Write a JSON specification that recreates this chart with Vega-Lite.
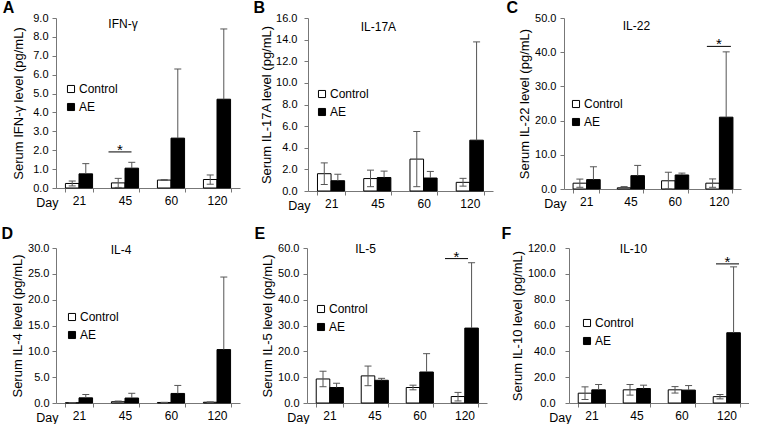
{
  "$schema": "https://vega.github.io/schema/vega-lite/v6.json",
  "padding": {"left": 1, "top": 0, "right": 0, "bottom": 0},
  "config": {
    "font": "Liberation Sans",
    "view": {"stroke": null},
    "axis": {"grid": false, "domainColor": "#777777", "tickColor": "#777777", "labelColor": "black", "titleColor": "black", "titleFontWeight": "normal", "labelFont": "Liberation Sans", "titleFont": "Liberation Sans", "labelOverlap": false},
    "axisY": {"labelFontSize": 11, "titleFontSize": 13, "tickSize": 4, "labelPadding": 6, "titlePadding": 3},
    "axisX": {"labelFontSize": 12, "tickSize": 4, "labelPadding": 3, "tickBand": "extent", "labelAngle": 0, "titleFontSize": 12.5, "titleAlign": "right", "titleBaseline": "top", "titleX": 2, "titleY": 8, "titleAnchor": "start"},
    "legend": {"symbolType": "square", "symbolSize": 50, "symbolStrokeColor": "black", "symbolStrokeWidth": 1, "labelFontSize": 12, "labelColor": "black", "rowPadding": 6, "padding": 0, "labelOffset": 2, "labelFont": "Liberation Sans"},
    "title": {"fontSize": 16, "fontWeight": "bold", "anchor": "start", "frame": "bounds", "color": "black", "font": "Liberation Sans"},
    "text": {"font": "Liberation Sans", "color": "black"}
  },
  "spacing": 14,
  "resolve": {"scale": {"fill": "independent"}, "legend": {"fill": "independent"}},
  "vconcat": [
    {
      "spacing": 13,
      "resolve": {"scale": {"fill": "independent"}, "legend": {"fill": "independent"}},
      "hconcat": [
        {
          "width": 184, "height": 170,
          "title": {"text": "A", "dx": -10, "offset": -4},
          "data": {"values": [
            {"day": "21", "group": "Control", "mean": 0.24, "lo": 0.11, "hi": 0.37},
            {"day": "21", "group": "AE", "mean": 0.75, "lo": 0.75, "hi": 1.29},
            {"day": "45", "group": "Control", "mean": 0.27, "lo": 0.03, "hi": 0.51},
            {"day": "45", "group": "AE", "mean": 1.05, "lo": 1.05, "hi": 1.36},
            {"day": "60", "group": "Control", "mean": 0.42, "lo": 0.40, "hi": 0.44},
            {"day": "60", "group": "AE", "mean": 2.64, "lo": 2.64, "hi": 6.3},
            {"day": "120", "group": "Control", "mean": 0.45, "lo": 0.20, "hi": 0.69},
            {"day": "120", "group": "AE", "mean": 4.7, "lo": 4.7, "hi": 8.42}
          ]},
          "layer": [
            {
              "mark": {"type": "bar", "stroke": "black", "strokeWidth": 1},
              "encoding": {
                "x": {"field": "day", "type": "nominal", "scale": {"domain": ["21", "45", "60", "120"], "paddingInner": 0.41, "paddingOuter": 0.205}, "axis": {"title": "Day"}},
                "xOffset": {"field": "group", "type": "nominal", "scale": {"domain": ["Control", "AE"], "paddingInner": 0, "paddingOuter": 0}},
                "y": {"field": "mean", "type": "quantitative", "scale": {"domain": [0, 9], "nice": false}, "axis": {"values": [0, 1, 2, 3, 4, 5, 6, 7, 8, 9], "format": ".1f", "title": "Serum IFN-γ level (pg/mL)", "titlePadding": 7, "labelPadding": 4, "labelOverlap": false}},
                "fill": {"field": "group", "type": "nominal", "scale": {"domain": ["Control", "AE"], "range": ["white", "black"]}, "legend": {"orient": "none", "legendX": 9, "legendY": 65, "title": null}}
              }
            },
            {
              "mark": {"type": "rule", "color": "#555555", "strokeWidth": 1},
              "encoding": {"x": {"field": "day", "type": "nominal"}, "xOffset": {"field": "group", "type": "nominal"}, "y": {"field": "lo", "type": "quantitative", "axis": {"values": [0, 1, 2, 3, 4, 5, 6, 7, 8, 9], "format": ".1f", "title": "Serum IFN-γ level (pg/mL)", "titlePadding": 7, "labelPadding": 4, "labelOverlap": false}}, "y2": {"field": "hi"}}
            },
            {
              "mark": {"type": "tick", "color": "#555555", "size": 7, "thickness": 1, "opacity": 1},
              "encoding": {"x": {"field": "day", "type": "nominal"}, "xOffset": {"field": "group", "type": "nominal"}, "y": {"field": "hi", "type": "quantitative", "axis": {"values": [0, 1, 2, 3, 4, 5, 6, 7, 8, 9], "format": ".1f", "title": "Serum IFN-γ level (pg/mL)", "titlePadding": 7, "labelPadding": 4, "labelOverlap": false}}}
            },
            {
              "transform": [{"filter": "datum.group === 'Control'"}],
              "mark": {"type": "tick", "color": "#555555", "size": 7, "thickness": 1, "opacity": 1},
              "encoding": {"x": {"field": "day", "type": "nominal"}, "xOffset": {"field": "group", "type": "nominal"}, "y": {"field": "lo", "type": "quantitative", "axis": {"values": [0, 1, 2, 3, 4, 5, 6, 7, 8, 9], "format": ".1f", "title": "Serum IFN-γ level (pg/mL)", "titlePadding": 7, "labelPadding": 4, "labelOverlap": false}}}
            },
            {
              "data": {"values": [{"day": "45", "mark": "*"}]},
              "layer": [
                {
                  "mark": {"type": "tick", "color": "black", "size": 23, "thickness": 1, "opacity": 1, "xOffset": -5},
                  "encoding": {"x": {"field": "day", "type": "nominal"}, "y": {"datum": 1.91, "axis": {"values": [0, 1, 2, 3, 4, 5, 6, 7, 8, 9], "format": ".1f", "title": "Serum IFN-γ level (pg/mL)", "titlePadding": 7, "labelPadding": 4, "labelOverlap": false}}}
                },
                {
                  "mark": {"type": "text", "fontSize": 15, "baseline": "alphabetic", "dx": -5, "dy": 3},
                  "encoding": {"x": {"field": "day", "type": "nominal"}, "y": {"datum": 1.91, "axis": {"values": [0, 1, 2, 3, 4, 5, 6, 7, 8, 9], "format": ".1f", "title": "Serum IFN-γ level (pg/mL)", "titlePadding": 7, "labelPadding": 4, "labelOverlap": false}}, "text": {"field": "mark"}}
                }
              ]
            },
            {
              "data": {"values": [{"day": "45", "name": "IFN-γ"}]},
              "mark": {"type": "text", "fontSize": 12, "baseline": "middle", "dx": -2},
              "encoding": {"x": {"field": "day", "type": "nominal"}, "y": {"datum": 8.7, "axis": {"values": [0, 1, 2, 3, 4, 5, 6, 7, 8, 9], "format": ".1f", "title": "Serum IFN-γ level (pg/mL)", "titlePadding": 7, "labelPadding": 4, "labelOverlap": false}}, "text": {"field": "name"}}
            }
          ]
        },
        {
          "width": 185, "height": 173,
          "title": {"text": "B", "dx": -7, "offset": -4},
          "data": {"values": [
            {"day": "21", "group": "Control", "mean": 1.6, "lo": 0.6, "hi": 2.6},
            {"day": "21", "group": "AE", "mean": 0.95, "lo": 0.95, "hi": 1.55},
            {"day": "45", "group": "Control", "mean": 1.15, "lo": 0.4, "hi": 1.93},
            {"day": "45", "group": "AE", "mean": 1.25, "lo": 1.25, "hi": 1.84},
            {"day": "60", "group": "Control", "mean": 2.95, "lo": 0.4, "hi": 5.5},
            {"day": "60", "group": "AE", "mean": 1.2, "lo": 1.2, "hi": 1.81},
            {"day": "120", "group": "Control", "mean": 0.8, "lo": 0.45, "hi": 1.17},
            {"day": "120", "group": "AE", "mean": 4.7, "lo": 4.7, "hi": 13.79}
          ]},
          "layer": [
            {
              "mark": {"type": "bar", "stroke": "black", "strokeWidth": 1},
              "encoding": {
                "x": {"field": "day", "type": "nominal", "scale": {"domain": ["21", "45", "60", "120"], "paddingInner": 0.41, "paddingOuter": 0.205}, "axis": {"title": "Day"}},
                "xOffset": {"field": "group", "type": "nominal", "scale": {"domain": ["Control", "AE"], "paddingInner": 0, "paddingOuter": 0}},
                "y": {"field": "mean", "type": "quantitative", "scale": {"domain": [0, 16], "nice": false}, "axis": {"values": [0, 2, 4, 6, 8, 10, 12, 14, 16], "format": ".1f", "title": "Serum IL-17A level (pg/mL)", "titlePadding": 2, "labelPadding": 7, "labelOverlap": false}},
                "fill": {"field": "group", "type": "nominal", "scale": {"domain": ["Control", "AE"], "range": ["white", "black"]}, "legend": {"orient": "none", "legendX": 8, "legendY": 70, "title": null}}
              }
            },
            {
              "mark": {"type": "rule", "color": "#555555", "strokeWidth": 1},
              "encoding": {"x": {"field": "day", "type": "nominal"}, "xOffset": {"field": "group", "type": "nominal"}, "y": {"field": "lo", "type": "quantitative", "axis": {"values": [0, 2, 4, 6, 8, 10, 12, 14, 16], "format": ".1f", "title": "Serum IL-17A level (pg/mL)", "titlePadding": 2, "labelPadding": 7, "labelOverlap": false}}, "y2": {"field": "hi"}}
            },
            {
              "mark": {"type": "tick", "color": "#555555", "size": 7, "thickness": 1, "opacity": 1},
              "encoding": {"x": {"field": "day", "type": "nominal"}, "xOffset": {"field": "group", "type": "nominal"}, "y": {"field": "hi", "type": "quantitative", "axis": {"values": [0, 2, 4, 6, 8, 10, 12, 14, 16], "format": ".1f", "title": "Serum IL-17A level (pg/mL)", "titlePadding": 2, "labelPadding": 7, "labelOverlap": false}}}
            },
            {
              "transform": [{"filter": "datum.group === 'Control'"}],
              "mark": {"type": "tick", "color": "#555555", "size": 7, "thickness": 1, "opacity": 1},
              "encoding": {"x": {"field": "day", "type": "nominal"}, "xOffset": {"field": "group", "type": "nominal"}, "y": {"field": "lo", "type": "quantitative", "axis": {"values": [0, 2, 4, 6, 8, 10, 12, 14, 16], "format": ".1f", "title": "Serum IL-17A level (pg/mL)", "titlePadding": 2, "labelPadding": 7, "labelOverlap": false}}}
            },
            {
              "data": {"values": [{"day": "45", "name": "IL-17A"}]},
              "mark": {"type": "text", "fontSize": 12, "baseline": "middle", "dx": 1},
              "encoding": {"x": {"field": "day", "type": "nominal"}, "y": {"datum": 15.2, "axis": {"values": [0, 2, 4, 6, 8, 10, 12, 14, 16], "format": ".1f", "title": "Serum IL-17A level (pg/mL)", "titlePadding": 2, "labelPadding": 7, "labelOverlap": false}}, "text": {"field": "name"}}
            }
          ]
        },
        {
          "width": 177, "height": 171,
          "title": {"text": "C", "dx": -12, "offset": -4},
          "data": {"values": [
            {"day": "21", "group": "Control", "mean": 1.7, "lo": 0.5, "hi": 2.9},
            {"day": "21", "group": "AE", "mean": 2.75, "lo": 2.75, "hi": 6.5},
            {"day": "45", "group": "Control", "mean": 0.35, "lo": 0.05, "hi": 0.7},
            {"day": "45", "group": "AE", "mean": 3.9, "lo": 3.9, "hi": 6.9},
            {"day": "60", "group": "Control", "mean": 2.4, "lo": 0.0, "hi": 4.9},
            {"day": "60", "group": "AE", "mean": 4.1, "lo": 4.1, "hi": 4.65},
            {"day": "120", "group": "Control", "mean": 1.7, "lo": 0.5, "hi": 2.95},
            {"day": "120", "group": "AE", "mean": 21.0, "lo": 21.0, "hi": 40.1}
          ]},
          "layer": [
            {
              "mark": {"type": "bar", "stroke": "black", "strokeWidth": 1},
              "encoding": {
                "x": {"field": "day", "type": "nominal", "scale": {"domain": ["21", "45", "60", "120"], "paddingInner": 0.41, "paddingOuter": 0.205}, "axis": {"title": "Day"}},
                "xOffset": {"field": "group", "type": "nominal", "scale": {"domain": ["Control", "AE"], "paddingInner": 0, "paddingOuter": 0}},
                "y": {"field": "mean", "type": "quantitative", "scale": {"domain": [0, 50], "nice": false}, "axis": {"values": [0, 10, 20, 30, 40, 50], "format": ".1f", "title": "Serum IL-22 level (pg/mL)", "titlePadding": 3, "labelPadding": 4, "labelOverlap": false}},
                "fill": {"field": "group", "type": "nominal", "scale": {"domain": ["Control", "AE"], "range": ["white", "black"]}, "legend": {"orient": "none", "legendX": 6, "legendY": 80, "title": null}}
              }
            },
            {
              "mark": {"type": "rule", "color": "#555555", "strokeWidth": 1},
              "encoding": {"x": {"field": "day", "type": "nominal"}, "xOffset": {"field": "group", "type": "nominal"}, "y": {"field": "lo", "type": "quantitative", "axis": {"values": [0, 10, 20, 30, 40, 50], "format": ".1f", "title": "Serum IL-22 level (pg/mL)", "titlePadding": 3, "labelPadding": 4, "labelOverlap": false}}, "y2": {"field": "hi"}}
            },
            {
              "mark": {"type": "tick", "color": "#555555", "size": 7, "thickness": 1, "opacity": 1},
              "encoding": {"x": {"field": "day", "type": "nominal"}, "xOffset": {"field": "group", "type": "nominal"}, "y": {"field": "hi", "type": "quantitative", "axis": {"values": [0, 10, 20, 30, 40, 50], "format": ".1f", "title": "Serum IL-22 level (pg/mL)", "titlePadding": 3, "labelPadding": 4, "labelOverlap": false}}}
            },
            {
              "transform": [{"filter": "datum.group === 'Control'"}],
              "mark": {"type": "tick", "color": "#555555", "size": 7, "thickness": 1, "opacity": 1},
              "encoding": {"x": {"field": "day", "type": "nominal"}, "xOffset": {"field": "group", "type": "nominal"}, "y": {"field": "lo", "type": "quantitative", "axis": {"values": [0, 10, 20, 30, 40, 50], "format": ".1f", "title": "Serum IL-22 level (pg/mL)", "titlePadding": 3, "labelPadding": 4, "labelOverlap": false}}}
            },
            {
              "data": {"values": [{"day": "120", "mark": "*"}]},
              "layer": [
                {
                  "mark": {"type": "tick", "color": "black", "size": 24, "thickness": 1, "opacity": 1, "xOffset": 0},
                  "encoding": {"x": {"field": "day", "type": "nominal"}, "y": {"datum": 41.7, "axis": {"values": [0, 10, 20, 30, 40, 50], "format": ".1f", "title": "Serum IL-22 level (pg/mL)", "titlePadding": 3, "labelPadding": 4, "labelOverlap": false}}}
                },
                {
                  "mark": {"type": "text", "fontSize": 15, "baseline": "alphabetic", "dx": 0, "dy": 3},
                  "encoding": {"x": {"field": "day", "type": "nominal"}, "y": {"datum": 41.7, "axis": {"values": [0, 10, 20, 30, 40, 50], "format": ".1f", "title": "Serum IL-22 level (pg/mL)", "titlePadding": 3, "labelPadding": 4, "labelOverlap": false}}, "text": {"field": "mark"}}
                }
              ]
            },
            {
              "data": {"values": [{"day": "45", "name": "IL-22"}]},
              "mark": {"type": "text", "fontSize": 12, "baseline": "middle", "dx": 6},
              "encoding": {"x": {"field": "day", "type": "nominal"}, "y": {"datum": 47.8, "axis": {"values": [0, 10, 20, 30, 40, 50], "format": ".1f", "title": "Serum IL-22 level (pg/mL)", "titlePadding": 3, "labelPadding": 4, "labelOverlap": false}}, "text": {"field": "name"}}
            }
          ]
        }
      ]
    },
    {
      "spacing": 14,
      "resolve": {"scale": {"fill": "independent"}, "legend": {"fill": "independent"}},
      "hconcat": [
        {
          "width": 184, "height": 155,
          "title": {"text": "D", "dx": -10, "offset": 0},
          "data": {"values": [
            {"day": "21", "group": "Control", "mean": 0.05, "lo": 0.03, "hi": 0.07},
            {"day": "21", "group": "AE", "mean": 1.0, "lo": 1.0, "hi": 1.65},
            {"day": "45", "group": "Control", "mean": 0.25, "lo": 0.12, "hi": 0.38},
            {"day": "45", "group": "AE", "mean": 0.96, "lo": 0.96, "hi": 1.88},
            {"day": "60", "group": "Control", "mean": 0.1, "lo": 0.07, "hi": 0.13},
            {"day": "60", "group": "AE", "mean": 1.85, "lo": 1.85, "hi": 3.4},
            {"day": "120", "group": "Control", "mean": 0.15, "lo": 0.08, "hi": 0.22},
            {"day": "120", "group": "AE", "mean": 10.34, "lo": 10.34, "hi": 24.38}
          ]},
          "layer": [
            {
              "mark": {"type": "bar", "stroke": "black", "strokeWidth": 1},
              "encoding": {
                "x": {"field": "day", "type": "nominal", "scale": {"domain": ["21", "45", "60", "120"], "paddingInner": 0.41, "paddingOuter": 0.205}, "axis": {"title": "Day"}},
                "xOffset": {"field": "group", "type": "nominal", "scale": {"domain": ["Control", "AE"], "paddingInner": 0, "paddingOuter": 0}},
                "y": {"field": "mean", "type": "quantitative", "scale": {"domain": [0, 30], "nice": false}, "axis": {"values": [0, 5, 10, 15, 20, 25, 30], "format": ".1f", "title": "Serum IL-4 level (pg/mL)", "titlePadding": 3, "labelPadding": 3, "labelOverlap": false}},
                "fill": {"field": "group", "type": "nominal", "scale": {"domain": ["Control", "AE"], "range": ["white", "black"]}, "legend": {"orient": "none", "legendX": 10, "legendY": 63, "title": null}}
              }
            },
            {
              "mark": {"type": "rule", "color": "#555555", "strokeWidth": 1},
              "encoding": {"x": {"field": "day", "type": "nominal"}, "xOffset": {"field": "group", "type": "nominal"}, "y": {"field": "lo", "type": "quantitative", "axis": {"values": [0, 5, 10, 15, 20, 25, 30], "format": ".1f", "title": "Serum IL-4 level (pg/mL)", "titlePadding": 3, "labelPadding": 3, "labelOverlap": false}}, "y2": {"field": "hi"}}
            },
            {
              "mark": {"type": "tick", "color": "#555555", "size": 7, "thickness": 1, "opacity": 1},
              "encoding": {"x": {"field": "day", "type": "nominal"}, "xOffset": {"field": "group", "type": "nominal"}, "y": {"field": "hi", "type": "quantitative", "axis": {"values": [0, 5, 10, 15, 20, 25, 30], "format": ".1f", "title": "Serum IL-4 level (pg/mL)", "titlePadding": 3, "labelPadding": 3, "labelOverlap": false}}}
            },
            {
              "transform": [{"filter": "datum.group === 'Control'"}],
              "mark": {"type": "tick", "color": "#555555", "size": 7, "thickness": 1, "opacity": 1},
              "encoding": {"x": {"field": "day", "type": "nominal"}, "xOffset": {"field": "group", "type": "nominal"}, "y": {"field": "lo", "type": "quantitative", "axis": {"values": [0, 5, 10, 15, 20, 25, 30], "format": ".1f", "title": "Serum IL-4 level (pg/mL)", "titlePadding": 3, "labelPadding": 3, "labelOverlap": false}}}
            },
            {
              "data": {"values": [{"day": "45", "name": "IL-4"}]},
              "mark": {"type": "text", "fontSize": 12, "baseline": "middle", "dx": -4},
              "encoding": {"x": {"field": "day", "type": "nominal"}, "y": {"datum": 29.7, "axis": {"values": [0, 5, 10, 15, 20, 25, 30], "format": ".1f", "title": "Serum IL-4 level (pg/mL)", "titlePadding": 3, "labelPadding": 3, "labelOverlap": false}}, "text": {"field": "name"}}
            }
          ]
        },
        {
          "width": 180, "height": 155,
          "title": {"text": "E", "dx": -7, "offset": 0},
          "data": {"values": [
            {"day": "21", "group": "Control", "mean": 9.3, "lo": 6.3, "hi": 12.3},
            {"day": "21", "group": "AE", "mean": 6.0, "lo": 6.0, "hi": 7.65},
            {"day": "45", "group": "Control", "mean": 10.5, "lo": 6.7, "hi": 14.3},
            {"day": "45", "group": "AE", "mean": 8.8, "lo": 8.8, "hi": 9.55},
            {"day": "60", "group": "Control", "mean": 6.0, "lo": 5.1, "hi": 6.9},
            {"day": "60", "group": "AE", "mean": 12.0, "lo": 12.0, "hi": 19.1},
            {"day": "120", "group": "Control", "mean": 2.5, "lo": 0.8, "hi": 4.1},
            {"day": "120", "group": "AE", "mean": 29.0, "lo": 29.0, "hi": 54.3}
          ]},
          "layer": [
            {
              "mark": {"type": "bar", "stroke": "black", "strokeWidth": 1},
              "encoding": {
                "x": {"field": "day", "type": "nominal", "scale": {"domain": ["21", "45", "60", "120"], "paddingInner": 0.41, "paddingOuter": 0.205}, "axis": {"title": "Day"}},
                "xOffset": {"field": "group", "type": "nominal", "scale": {"domain": ["Control", "AE"], "paddingInner": 0, "paddingOuter": 0}},
                "y": {"field": "mean", "type": "quantitative", "scale": {"domain": [0, 60], "nice": false}, "axis": {"values": [0, 10, 20, 30, 40, 50, 60], "format": ".1f", "title": "Serum IL-5 level (pg/mL)", "titlePadding": 3, "labelPadding": 4, "labelOverlap": false}},
                "fill": {"field": "group", "type": "nominal", "scale": {"domain": ["Control", "AE"], "range": ["white", "black"]}, "legend": {"orient": "none", "legendX": 8, "legendY": 55, "title": null}}
              }
            },
            {
              "mark": {"type": "rule", "color": "#555555", "strokeWidth": 1},
              "encoding": {"x": {"field": "day", "type": "nominal"}, "xOffset": {"field": "group", "type": "nominal"}, "y": {"field": "lo", "type": "quantitative", "axis": {"values": [0, 10, 20, 30, 40, 50, 60], "format": ".1f", "title": "Serum IL-5 level (pg/mL)", "titlePadding": 3, "labelPadding": 4, "labelOverlap": false}}, "y2": {"field": "hi"}}
            },
            {
              "mark": {"type": "tick", "color": "#555555", "size": 7, "thickness": 1, "opacity": 1},
              "encoding": {"x": {"field": "day", "type": "nominal"}, "xOffset": {"field": "group", "type": "nominal"}, "y": {"field": "hi", "type": "quantitative", "axis": {"values": [0, 10, 20, 30, 40, 50, 60], "format": ".1f", "title": "Serum IL-5 level (pg/mL)", "titlePadding": 3, "labelPadding": 4, "labelOverlap": false}}}
            },
            {
              "transform": [{"filter": "datum.group === 'Control'"}],
              "mark": {"type": "tick", "color": "#555555", "size": 7, "thickness": 1, "opacity": 1},
              "encoding": {"x": {"field": "day", "type": "nominal"}, "xOffset": {"field": "group", "type": "nominal"}, "y": {"field": "lo", "type": "quantitative", "axis": {"values": [0, 10, 20, 30, 40, 50, 60], "format": ".1f", "title": "Serum IL-5 level (pg/mL)", "titlePadding": 3, "labelPadding": 4, "labelOverlap": false}}}
            },
            {
              "data": {"values": [{"day": "120", "mark": "*"}]},
              "layer": [
                {
                  "mark": {"type": "tick", "color": "black", "size": 23, "thickness": 1, "opacity": 1, "xOffset": -8},
                  "encoding": {"x": {"field": "day", "type": "nominal"}, "y": {"datum": 55.9, "axis": {"values": [0, 10, 20, 30, 40, 50, 60], "format": ".1f", "title": "Serum IL-5 level (pg/mL)", "titlePadding": 3, "labelPadding": 4, "labelOverlap": false}}}
                },
                {
                  "mark": {"type": "text", "fontSize": 15, "baseline": "alphabetic", "dx": -8, "dy": 3},
                  "encoding": {"x": {"field": "day", "type": "nominal"}, "y": {"datum": 55.9, "axis": {"values": [0, 10, 20, 30, 40, 50, 60], "format": ".1f", "title": "Serum IL-5 level (pg/mL)", "titlePadding": 3, "labelPadding": 4, "labelOverlap": false}}, "text": {"field": "mark"}}
                }
              ]
            },
            {
              "data": {"values": [{"day": "45", "name": "IL-5"}]},
              "mark": {"type": "text", "fontSize": 12, "baseline": "middle", "dx": -9},
              "encoding": {"x": {"field": "day", "type": "nominal"}, "y": {"datum": 59.5, "axis": {"values": [0, 10, 20, 30, 40, 50, 60], "format": ".1f", "title": "Serum IL-5 level (pg/mL)", "titlePadding": 3, "labelPadding": 4, "labelOverlap": false}}, "text": {"field": "name"}}
            }
          ]
        },
        {
          "width": 180, "height": 155,
          "title": {"text": "F", "dx": -10, "offset": 0},
          "data": {"values": [
            {"day": "21", "group": "Control", "mean": 7.6, "lo": 2.7, "hi": 12.5},
            {"day": "21", "group": "AE", "mean": 10.2, "lo": 10.2, "hi": 14.3},
            {"day": "45", "group": "Control", "mean": 10.2, "lo": 6.1, "hi": 14.3},
            {"day": "45", "group": "AE", "mean": 11.2, "lo": 11.2, "hi": 13.8},
            {"day": "60", "group": "Control", "mean": 10.2, "lo": 7.7, "hi": 12.7},
            {"day": "60", "group": "AE", "mean": 10.0, "lo": 10.0, "hi": 13.5},
            {"day": "120", "group": "Control", "mean": 4.9, "lo": 3.2, "hi": 6.6},
            {"day": "120", "group": "AE", "mean": 54.4, "lo": 54.4, "hi": 105.4}
          ]},
          "layer": [
            {
              "mark": {"type": "bar", "stroke": "black", "strokeWidth": 1},
              "encoding": {
                "x": {"field": "day", "type": "nominal", "scale": {"domain": ["21", "45", "60", "120"], "paddingInner": 0.41, "paddingOuter": 0.205}, "axis": {"title": "Day"}},
                "xOffset": {"field": "group", "type": "nominal", "scale": {"domain": ["Control", "AE"], "paddingInner": 0, "paddingOuter": 0}},
                "y": {"field": "mean", "type": "quantitative", "scale": {"domain": [0, 120], "nice": false}, "axis": {"values": [0, 20, 40, 60, 80, 100, 120], "format": ".1f", "title": "Serum IL-10 level (pg/mL)", "titlePadding": 3, "labelPadding": 10, "labelOverlap": false}},
                "fill": {"field": "group", "type": "nominal", "scale": {"domain": ["Control", "AE"], "range": ["white", "black"]}, "legend": {"orient": "none", "legendX": 12, "legendY": 69, "title": null}}
              }
            },
            {
              "mark": {"type": "rule", "color": "#555555", "strokeWidth": 1},
              "encoding": {"x": {"field": "day", "type": "nominal"}, "xOffset": {"field": "group", "type": "nominal"}, "y": {"field": "lo", "type": "quantitative", "axis": {"values": [0, 20, 40, 60, 80, 100, 120], "format": ".1f", "title": "Serum IL-10 level (pg/mL)", "titlePadding": 3, "labelPadding": 10, "labelOverlap": false}}, "y2": {"field": "hi"}}
            },
            {
              "mark": {"type": "tick", "color": "#555555", "size": 7, "thickness": 1, "opacity": 1},
              "encoding": {"x": {"field": "day", "type": "nominal"}, "xOffset": {"field": "group", "type": "nominal"}, "y": {"field": "hi", "type": "quantitative", "axis": {"values": [0, 20, 40, 60, 80, 100, 120], "format": ".1f", "title": "Serum IL-10 level (pg/mL)", "titlePadding": 3, "labelPadding": 10, "labelOverlap": false}}}
            },
            {
              "transform": [{"filter": "datum.group === 'Control'"}],
              "mark": {"type": "tick", "color": "#555555", "size": 7, "thickness": 1, "opacity": 1},
              "encoding": {"x": {"field": "day", "type": "nominal"}, "xOffset": {"field": "group", "type": "nominal"}, "y": {"field": "lo", "type": "quantitative", "axis": {"values": [0, 20, 40, 60, 80, 100, 120], "format": ".1f", "title": "Serum IL-10 level (pg/mL)", "titlePadding": 3, "labelPadding": 10, "labelOverlap": false}}}
            },
            {
              "data": {"values": [{"day": "120", "mark": "*"}]},
              "layer": [
                {
                  "mark": {"type": "tick", "color": "black", "size": 23, "thickness": 1, "opacity": 1, "xOffset": 1},
                  "encoding": {"x": {"field": "day", "type": "nominal"}, "y": {"datum": 107.7, "axis": {"values": [0, 20, 40, 60, 80, 100, 120], "format": ".1f", "title": "Serum IL-10 level (pg/mL)", "titlePadding": 3, "labelPadding": 10, "labelOverlap": false}}}
                },
                {
                  "mark": {"type": "text", "fontSize": 15, "baseline": "alphabetic", "dx": 1, "dy": 3},
                  "encoding": {"x": {"field": "day", "type": "nominal"}, "y": {"datum": 107.7, "axis": {"values": [0, 20, 40, 60, 80, 100, 120], "format": ".1f", "title": "Serum IL-10 level (pg/mL)", "titlePadding": 3, "labelPadding": 10, "labelOverlap": false}}, "text": {"field": "mark"}}
                }
              ]
            },
            {
              "data": {"values": [{"day": "45", "name": "IL-10"}]},
              "mark": {"type": "text", "fontSize": 12, "baseline": "middle", "dx": -3},
              "encoding": {"x": {"field": "day", "type": "nominal"}, "y": {"datum": 118.9, "axis": {"values": [0, 20, 40, 60, 80, 100, 120], "format": ".1f", "title": "Serum IL-10 level (pg/mL)", "titlePadding": 3, "labelPadding": 10, "labelOverlap": false}}, "text": {"field": "name"}}
            }
          ]
        }
      ]
    }
  ]
}
